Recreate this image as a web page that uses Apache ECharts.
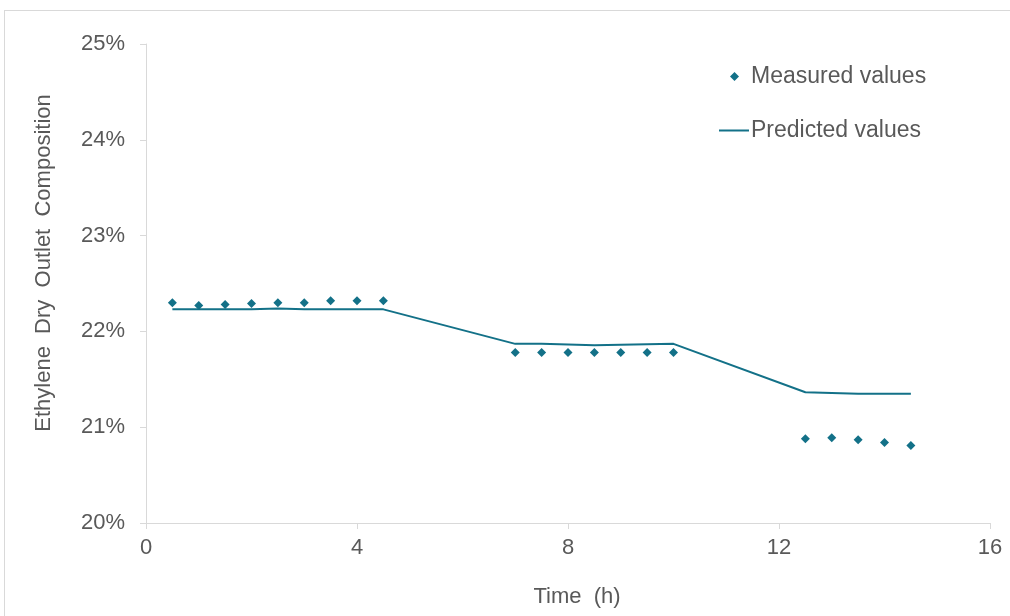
<!DOCTYPE html>
<html>
<head>
<meta charset="utf-8">
<script src="https://cdn.jsdelivr.net/npm/echarts@6/dist/echarts.min.js"></script>
<style>
  html, body { margin: 0; padding: 0; background: #fff; }
  #frame { position: absolute; left: 4px; top: 10px; width: 1100px; height: 700px; border: 1px solid #d9d9d9; box-sizing: border-box; }
  #chart { position: absolute; left: 0; top: 0; width: 1010px; height: 616px; }
</style>
</head>
<body>
<div id="frame"></div>
<div id="chart"></div>
<script>
// Measured values (time in h, ethylene dry outlet composition in %)
const measuredTime = [0.5, 1, 1.5, 2, 2.5, 3, 3.5, 4, 4.5, 7, 7.5, 8, 8.5, 9, 9.5, 10, 12.5, 13, 13.5, 14, 14.5];
const measuredValue = [22.30, 22.27, 22.28, 22.29, 22.30, 22.30, 22.32, 22.32, 22.32,
                       21.78, 21.78, 21.78, 21.78, 21.78, 21.78, 21.78,
                       20.88, 20.89, 20.87, 20.84, 20.81];
// Predicted values
const predictedTime = [0.5, 2, 2.5, 3, 4.5, 7, 7.5, 8.5, 10, 12.5, 13.5, 14.5];
const predictedValue = [22.23, 22.23, 22.24, 22.23, 22.23, 21.87, 21.87, 21.855, 21.87, 21.365, 21.35, 21.35];
const xTicks = [0, 4, 8, 12, 16];
const yTicks = [20, 21, 22, 23, 24, 25];
const seriesNames = ['Measured values', 'Predicted values'];
const xTitle = 'Time  (h)';
const yTitle = 'Ethylene  Dry  Outlet  Composition';

const TEAL = '#137188';
const TXT = '#595959';
const FONT = '"Liberation Sans", Arial, sans-serif';

const chart = echarts.init(document.getElementById('chart'), null, { renderer: 'canvas' });
chart.setOption({
  backgroundColor: 'transparent',
  animation: false,
  textStyle: { fontFamily: FONT },
  grid: { left: 146, right: 20, top: 44, bottom: 93, containLabel: false },
  legend: [
    {
      data: [{ name: seriesNames[0], icon: 'diamond' }],
      left: 725, top: 60, itemWidth: 9, itemHeight: 9, itemGap: 5,
      textStyle: { color: TXT, fontSize: 23, fontFamily: FONT, padding: [0, 0, 0, 7] },
      selectedMode: false
    },
    {
      data: [{ name: seriesNames[1], icon: 'rect' }],
      left: 714, top: 114, itemWidth: 30, itemHeight: 2, itemGap: 5,
      textStyle: { color: TXT, fontSize: 23, fontFamily: FONT, padding: [0, 0, 0, -3] },
      selectedMode: false
    }
  ],
  xAxis: {
    type: 'value', min: xTicks[0], max: xTicks[xTicks.length - 1], interval: 4,
    name: xTitle, nameLocation: 'middle', nameGap: 63,
    nameTextStyle: { color: TXT, fontSize: 22, fontFamily: FONT, padding: [0, 0, 0, 18] },
    axisLine: { show: true, lineStyle: { color: '#d9d9d9', width: 1 } },
    axisTick: { show: true, length: 6, lineStyle: { color: '#d9d9d9' } },
    axisLabel: { color: TXT, fontSize: 22, margin: 14, fontFamily: FONT },
    splitLine: { show: false }
  },
  yAxis: {
    type: 'value', min: yTicks[0], max: yTicks[yTicks.length - 1], interval: 1,
    axisLine: { show: true, lineStyle: { color: '#d9d9d9', width: 1 } },
    axisTick: { show: true, length: 6, inside: false, lineStyle: { color: '#d9d9d9' } },
    axisLabel: { color: TXT, fontSize: 22, margin: 21, fontFamily: FONT, formatter: v => v + '%' },
    splitLine: { show: false }
  },
  graphic: [{
    type: 'text', x: 44, y: 263, rotation: Math.PI / 2,
    style: { text: yTitle, fill: TXT, font: '22px ' + FONT, align: 'center', verticalAlign: 'middle' }
  }],
  series: [
    {
      name: seriesNames[0], type: 'scatter', symbol: 'diamond', symbolSize: 9,
      itemStyle: { color: TEAL, opacity: 1 },
      data: measuredTime.map((t, i) => [t, measuredValue[i]]),
      z: 3
    },
    {
      name: seriesNames[1], type: 'line', symbol: 'none', showSymbol: false,
      lineStyle: { color: TEAL, width: 2 }, itemStyle: { color: TEAL },
      data: predictedTime.map((t, i) => [t, predictedValue[i]]),
      z: 2
    }
  ]
});
</script>
</body>
</html>
